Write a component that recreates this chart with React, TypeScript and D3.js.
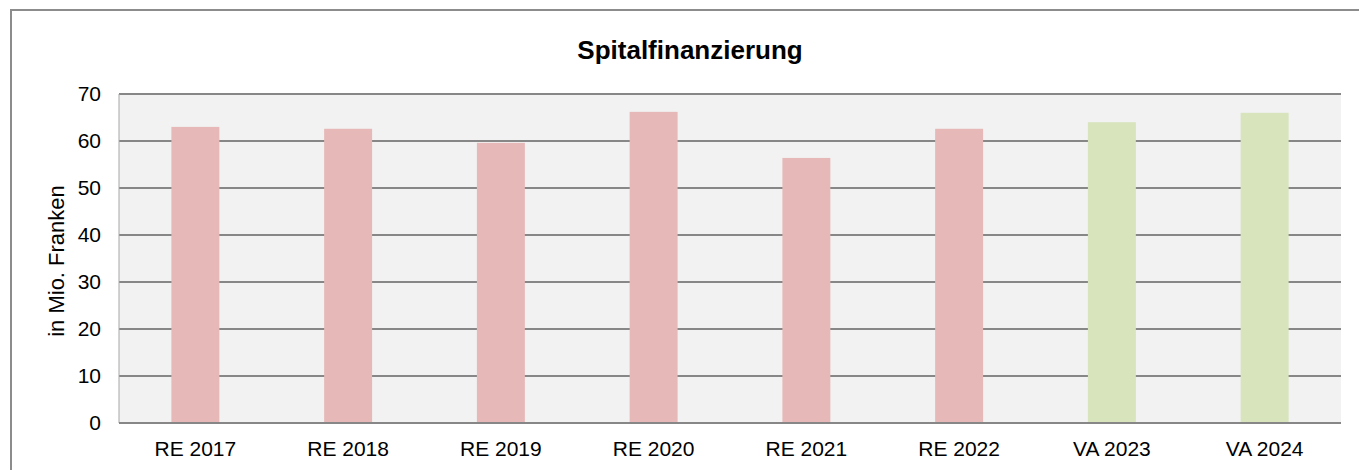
import React, { useEffect, useRef } from 'react';
import * as d3 from 'd3';

const categories = ['RE 2017', 'RE 2018', 'RE 2019', 'RE 2020', 'RE 2021', 'RE 2022', 'VA 2023', 'VA 2024'];
const values = [63.0, 62.6, 59.6, 66.2, 56.4, 62.6, 64.0, 66.0];
const barColors = ['#e6b8b7', '#e6b8b7', '#e6b8b7', '#e6b8b7', '#e6b8b7', '#e6b8b7', '#d8e4bc', '#d8e4bc'];
const yTicks = [0, 10, 20, 30, 40, 50, 60, 70];

const W = 1359;
const H = 470;

export default function App() {
  const ref = useRef<SVGSVGElement>(null);

  useEffect(() => {
    const svg = d3.select(ref.current);
    svg.selectAll('*').remove();

    const left = 119, right = 1341, top = 94, bottom = 423;
    const font = 'Liberation Sans, Arial, sans-serif';

    // outer chart border (runs off the right and bottom edge)
    svg.append('rect')
      .attr('x', 11).attr('y', 10)
      .attr('width', W + 20).attr('height', H + 20)
      .attr('fill', '#fff')
      .attr('stroke', '#8c8c8c')
      .attr('stroke-width', 2);

    const x = d3.scaleBand().domain(categories).range([left, right]).paddingInner(0.686).paddingOuter(0.343);
    const y = d3.scaleLinear().domain([0, 70]).range([bottom, top]);

    svg.append('rect')
      .attr('x', left).attr('y', top)
      .attr('width', right - left).attr('height', bottom - top)
      .attr('fill', '#f2f2f2');

    // gridlines
    svg.append('g').selectAll('line')
      .data(yTicks.filter(t => t > 0))
      .enter().append('line')
      .attr('x1', left).attr('x2', right)
      .attr('y1', d => y(d)).attr('y2', d => y(d))
      .attr('stroke', '#878787')
      .attr('stroke-width', 2);

    // bars
    svg.append('g').selectAll('rect')
      .data(values)
      .enter().append('rect')
      .attr('x', (d, i) => x(categories[i])!)
      .attr('width', x.bandwidth())
      .attr('y', d => y(d))
      .attr('height', d => bottom - y(d))
      .attr('fill', (d, i) => barColors[i]);

    // axes lines
    svg.append('line')
      .attr('x1', left).attr('x2', left).attr('y1', top).attr('y2', bottom)
      .attr('stroke', '#a6a6a6').attr('stroke-width', 1);
    svg.append('line')
      .attr('x1', left).attr('x2', right).attr('y1', bottom).attr('y2', bottom)
      .attr('stroke', '#878787').attr('stroke-width', 2);

    // y tick labels
    svg.append('g').selectAll('text')
      .data(yTicks)
      .enter().append('text')
      .attr('x', 101)
      .attr('y', d => y(d))
      .attr('dy', '0.35em')
      .attr('text-anchor', 'end')
      .style('font-family', font)
      .style('font-size', '21px')
      .attr('fill', '#000')
      .text(d => d);

    // x labels
    svg.append('g').selectAll('text')
      .data(categories)
      .enter().append('text')
      .attr('x', d => x(d)! + x.bandwidth() / 2)
      .attr('y', 456)
      .attr('text-anchor', 'middle')
      .style('font-family', font)
      .style('font-size', '21px')
      .attr('fill', '#000')
      .text(d => d);

    // y axis title
    svg.append('text')
      .attr('transform', 'translate(64,261) rotate(-90)')
      .attr('text-anchor', 'middle')
      .style('font-family', font)
      .style('font-size', '22px')
      .attr('fill', '#000')
      .text('in Mio. Franken');

    // title
    svg.append('text')
      .attr('x', 690)
      .attr('y', 59)
      .attr('text-anchor', 'middle')
      .style('font-family', font)
      .style('font-size', '26px')
      .style('font-weight', 'bold')
      .attr('fill', '#000')
      .text('Spitalfinanzierung');
  }, []);

  return (
    <svg ref={ref} width={W} height={H}
      style={{ position: 'absolute', left: 0, top: 0, display: 'block', background: '#fff' }} />
  );
}
